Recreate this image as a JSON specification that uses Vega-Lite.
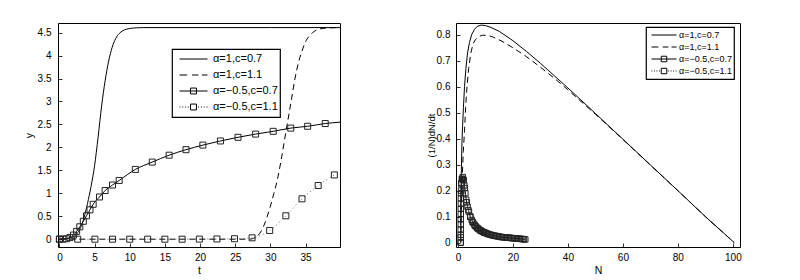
{
  "$schema": "https://vega.github.io/schema/vega-lite/v6.json",
  "background": "white",
  "padding": {"left": 23, "top": 22, "right": 5, "bottom": 5},
  "config": {
    "font": "Liberation Sans",
    "view": {"stroke": "black", "strokeWidth": 1},
    "axis": {"domain": false, "grid": false, "ticks": true, "tickSize": -4, "tickColor": "black", "tickWidth": 0.8,
      "labelFont": "Liberation Sans", "labelFontSize": 10, "labelColor": "black", "labelPadding": 11, "labelOverlap": false,
      "titleFont": "Liberation Sans", "titleFontSize": 10.5, "titleFontWeight": "normal", "titleColor": "black", "titlePadding": 3},
    "legend": {"strokeWidth": 1.2}
  },
  "datasets": {
    "left": [
      {"s": "α=1,c=0.7", "t": 0, "y": 0}, {"s": "α=1,c=0.7", "t": 1, "y": 0.01}, {"s": "α=1,c=0.7", "t": 1.5, "y": 0.03},
      {"s": "α=1,c=0.7", "t": 2, "y": 0.06}, {"s": "α=1,c=0.7", "t": 2.5, "y": 0.12}, {"s": "α=1,c=0.7", "t": 3, "y": 0.25},
      {"s": "α=1,c=0.7", "t": 3.5, "y": 0.47}, {"s": "α=1,c=0.7", "t": 4, "y": 0.78}, {"s": "α=1,c=0.7", "t": 4.5, "y": 1.15},
      {"s": "α=1,c=0.7", "t": 5, "y": 1.6}, {"s": "α=1,c=0.7", "t": 5.5, "y": 2.22}, {"s": "α=1,c=0.7", "t": 6, "y": 2.9},
      {"s": "α=1,c=0.7", "t": 6.5, "y": 3.45}, {"s": "α=1,c=0.7", "t": 7, "y": 3.88}, {"s": "α=1,c=0.7", "t": 7.5, "y": 4.18},
      {"s": "α=1,c=0.7", "t": 8, "y": 4.37}, {"s": "α=1,c=0.7", "t": 8.5, "y": 4.48}, {"s": "α=1,c=0.7", "t": 9, "y": 4.54},
      {"s": "α=1,c=0.7", "t": 10, "y": 4.59}, {"s": "α=1,c=0.7", "t": 11, "y": 4.605}, {"s": "α=1,c=0.7", "t": 12, "y": 4.61},
      {"s": "α=1,c=0.7", "t": 20, "y": 4.61}, {"s": "α=1,c=0.7", "t": 30, "y": 4.61}, {"s": "α=1,c=0.7", "t": 39.9, "y": 4.61},

      {"s": "α=1,c=1.1", "t": 0, "y": 0}, {"s": "α=1,c=1.1", "t": 27, "y": 0}, {"s": "α=1,c=1.1", "t": 28, "y": 0.05},
      {"s": "α=1,c=1.1", "t": 28.5, "y": 0.13}, {"s": "α=1,c=1.1", "t": 29, "y": 0.27}, {"s": "α=1,c=1.1", "t": 29.5, "y": 0.47},
      {"s": "α=1,c=1.1", "t": 30, "y": 0.72}, {"s": "α=1,c=1.1", "t": 30.5, "y": 1.0}, {"s": "α=1,c=1.1", "t": 31, "y": 1.3},
      {"s": "α=1,c=1.1", "t": 31.5, "y": 1.7}, {"s": "α=1,c=1.1", "t": 32, "y": 2.15}, {"s": "α=1,c=1.1", "t": 32.5, "y": 2.6},
      {"s": "α=1,c=1.1", "t": 33, "y": 3.05}, {"s": "α=1,c=1.1", "t": 33.5, "y": 3.5}, {"s": "α=1,c=1.1", "t": 34, "y": 3.85},
      {"s": "α=1,c=1.1", "t": 34.5, "y": 4.1}, {"s": "α=1,c=1.1", "t": 35, "y": 4.3}, {"s": "α=1,c=1.1", "t": 35.5, "y": 4.42},
      {"s": "α=1,c=1.1", "t": 36, "y": 4.5}, {"s": "α=1,c=1.1", "t": 36.5, "y": 4.55}, {"s": "α=1,c=1.1", "t": 37, "y": 4.58},
      {"s": "α=1,c=1.1", "t": 38, "y": 4.6}, {"s": "α=1,c=1.1", "t": 39.9, "y": 4.61},

      {"s": "α=−0.5,c=0.7", "t": 0, "y": 0}, {"s": "α=−0.5,c=0.7", "t": 0.5, "y": 0.002}, {"s": "α=−0.5,c=0.7", "t": 1.0, "y": 0.01},
      {"s": "α=−0.5,c=0.7", "t": 1.5, "y": 0.035}, {"s": "α=−0.5,c=0.7", "t": 2.0, "y": 0.09}, {"s": "α=−0.5,c=0.7", "t": 2.45, "y": 0.17},
      {"s": "α=−0.5,c=0.7", "t": 2.9, "y": 0.27}, {"s": "α=−0.5,c=0.7", "t": 3.4, "y": 0.39}, {"s": "α=−0.5,c=0.7", "t": 3.85, "y": 0.51},
      {"s": "α=−0.5,c=0.7", "t": 4.35, "y": 0.64}, {"s": "α=−0.5,c=0.7", "t": 4.8, "y": 0.76}, {"s": "α=−0.5,c=0.7", "t": 5.7, "y": 0.92},
      {"s": "α=−0.5,c=0.7", "t": 6.5, "y": 1.06}, {"s": "α=−0.5,c=0.7", "t": 7.55, "y": 1.18}, {"s": "α=−0.5,c=0.7", "t": 8.5, "y": 1.28},
      {"s": "α=−0.5,c=0.7", "t": 10.8, "y": 1.52}, {"s": "α=−0.5,c=0.7", "t": 13.2, "y": 1.68}, {"s": "α=−0.5,c=0.7", "t": 15.6, "y": 1.83},
      {"s": "α=−0.5,c=0.7", "t": 18.0, "y": 1.95}, {"s": "α=−0.5,c=0.7", "t": 20.4, "y": 2.05}, {"s": "α=−0.5,c=0.7", "t": 22.9, "y": 2.14},
      {"s": "α=−0.5,c=0.7", "t": 25.4, "y": 2.22}, {"s": "α=−0.5,c=0.7", "t": 27.9, "y": 2.29}, {"s": "α=−0.5,c=0.7", "t": 30.4, "y": 2.35},
      {"s": "α=−0.5,c=0.7", "t": 32.9, "y": 2.42}, {"s": "α=−0.5,c=0.7", "t": 35.3, "y": 2.46}, {"s": "α=−0.5,c=0.7", "t": 37.8, "y": 2.52},
      {"s": "α=−0.5,c=0.7", "t": 39.9, "y": 2.55},

      {"s": "α=−0.5,c=1.1", "t": 0, "y": 0}, {"s": "α=−0.5,c=1.1", "t": 2.6, "y": 0}, {"s": "α=−0.5,c=1.1", "t": 5.05, "y": 0},
      {"s": "α=−0.5,c=1.1", "t": 7.55, "y": 0}, {"s": "α=−0.5,c=1.1", "t": 10.0, "y": 0}, {"s": "α=−0.5,c=1.1", "t": 12.55, "y": 0},
      {"s": "α=−0.5,c=1.1", "t": 15.0, "y": 0}, {"s": "α=−0.5,c=1.1", "t": 17.45, "y": 0}, {"s": "α=−0.5,c=1.1", "t": 19.9, "y": 0.002},
      {"s": "α=−0.5,c=1.1", "t": 22.4, "y": 0.005}, {"s": "α=−0.5,c=1.1", "t": 24.9, "y": 0.01}, {"s": "α=−0.5,c=1.1", "t": 27.4, "y": 0.03},
      {"s": "α=−0.5,c=1.1", "t": 29.9, "y": 0.19}, {"s": "α=−0.5,c=1.1", "t": 32.2, "y": 0.51}, {"s": "α=−0.5,c=1.1", "t": 34.5, "y": 0.88},
      {"s": "α=−0.5,c=1.1", "t": 36.8, "y": 1.17}, {"s": "α=−0.5,c=1.1", "t": 39.1, "y": 1.4}
    ],
    "right": [
      {"s": "α=1,c=0.7", "N": 1.0, "r": 0}, {"s": "α=1,c=0.7", "N": 1.1, "r": 0.15}, {"s": "α=1,c=0.7", "N": 1.25, "r": 0.28},
      {"s": "α=1,c=0.7", "N": 1.45, "r": 0.38}, {"s": "α=1,c=0.7", "N": 1.7, "r": 0.45}, {"s": "α=1,c=0.7", "N": 2.0, "r": 0.52},
      {"s": "α=1,c=0.7", "N": 2.4, "r": 0.6}, {"s": "α=1,c=0.7", "N": 2.9, "r": 0.67}, {"s": "α=1,c=0.7", "N": 3.5, "r": 0.73},
      {"s": "α=1,c=0.7", "N": 4.2, "r": 0.77}, {"s": "α=1,c=0.7", "N": 5, "r": 0.8}, {"s": "α=1,c=0.7", "N": 6, "r": 0.82},
      {"s": "α=1,c=0.7", "N": 7, "r": 0.832}, {"s": "α=1,c=0.7", "N": 8.5, "r": 0.837}, {"s": "α=1,c=0.7", "N": 10, "r": 0.835},
      {"s": "α=1,c=0.7", "N": 12, "r": 0.828}, {"s": "α=1,c=0.7", "N": 15, "r": 0.813}, {"s": "α=1,c=0.7", "N": 20, "r": 0.777},
      {"s": "α=1,c=0.7", "N": 25, "r": 0.735}, {"s": "α=1,c=0.7", "N": 30, "r": 0.69}, {"s": "α=1,c=0.7", "N": 40, "r": 0.595},
      {"s": "α=1,c=0.7", "N": 50, "r": 0.497}, {"s": "α=1,c=0.7", "N": 60, "r": 0.398}, {"s": "α=1,c=0.7", "N": 70, "r": 0.299},
      {"s": "α=1,c=0.7", "N": 80, "r": 0.2}, {"s": "α=1,c=0.7", "N": 90, "r": 0.1}, {"s": "α=1,c=0.7", "N": 100.5, "r": 0},

      {"s": "α=1,c=1.1", "N": 1.0, "r": 0}, {"s": "α=1,c=1.1", "N": 1.1, "r": 0.05}, {"s": "α=1,c=1.1", "N": 1.3, "r": 0.15},
      {"s": "α=1,c=1.1", "N": 1.6, "r": 0.26}, {"s": "α=1,c=1.1", "N": 1.95, "r": 0.35}, {"s": "α=1,c=1.1", "N": 2.4, "r": 0.43},
      {"s": "α=1,c=1.1", "N": 2.8, "r": 0.52}, {"s": "α=1,c=1.1", "N": 3.3, "r": 0.6}, {"s": "α=1,c=1.1", "N": 3.9, "r": 0.67},
      {"s": "α=1,c=1.1", "N": 4.7, "r": 0.73}, {"s": "α=1,c=1.1", "N": 5.5, "r": 0.765}, {"s": "α=1,c=1.1", "N": 6.3, "r": 0.78},
      {"s": "α=1,c=1.1", "N": 7.5, "r": 0.793}, {"s": "α=1,c=1.1", "N": 9, "r": 0.798}, {"s": "α=1,c=1.1", "N": 11, "r": 0.797},
      {"s": "α=1,c=1.1", "N": 13, "r": 0.79}, {"s": "α=1,c=1.1", "N": 16, "r": 0.775}, {"s": "α=1,c=1.1", "N": 20, "r": 0.75},
      {"s": "α=1,c=1.1", "N": 25, "r": 0.715}, {"s": "α=1,c=1.1", "N": 30, "r": 0.675}, {"s": "α=1,c=1.1", "N": 35, "r": 0.633},
      {"s": "α=1,c=1.1", "N": 40, "r": 0.588}, {"s": "α=1,c=1.1", "N": 50, "r": 0.494}, {"s": "α=1,c=1.1", "N": 60, "r": 0.397},
      {"s": "α=1,c=1.1", "N": 70, "r": 0.298}, {"s": "α=1,c=1.1", "N": 80, "r": 0.2}, {"s": "α=1,c=1.1", "N": 90, "r": 0.1},
      {"s": "α=1,c=1.1", "N": 100.5, "r": 0},

      {"s": "α=−0.5,c=0.7", "N": 1.0, "r": 0.0}, {"s": "α=−0.5,c=0.7", "N": 1.01, "r": 0.03}, {"s": "α=−0.5,c=0.7", "N": 1.02, "r": 0.07},
      {"s": "α=−0.5,c=0.7", "N": 1.04, "r": 0.11}, {"s": "α=−0.5,c=0.7", "N": 1.07, "r": 0.15}, {"s": "α=−0.5,c=0.7", "N": 1.12, "r": 0.19},
      {"s": "α=−0.5,c=0.7", "N": 1.25, "r": 0.225}, {"s": "α=−0.5,c=0.7", "N": 1.45, "r": 0.245}, {"s": "α=−0.5,c=0.7", "N": 1.75, "r": 0.252},
      {"s": "α=−0.5,c=0.7", "N": 2.1, "r": 0.24}, {"s": "α=−0.5,c=0.7", "N": 2.5, "r": 0.21}, {"s": "α=−0.5,c=0.7", "N": 3.0, "r": 0.165},
      {"s": "α=−0.5,c=0.7", "N": 3.5, "r": 0.138}, {"s": "α=−0.5,c=0.7", "N": 4.0, "r": 0.118}, {"s": "α=−0.5,c=0.7", "N": 4.5, "r": 0.1},
      {"s": "α=−0.5,c=0.7", "N": 5.0, "r": 0.087}, {"s": "α=−0.5,c=0.7", "N": 5.5, "r": 0.077}, {"s": "α=−0.5,c=0.7", "N": 6.0, "r": 0.069},
      {"s": "α=−0.5,c=0.7", "N": 6.5, "r": 0.062}, {"s": "α=−0.5,c=0.7", "N": 7.0, "r": 0.057}, {"s": "α=−0.5,c=0.7", "N": 7.5, "r": 0.052},
      {"s": "α=−0.5,c=0.7", "N": 8.0, "r": 0.048}, {"s": "α=−0.5,c=0.7", "N": 8.5, "r": 0.045}, {"s": "α=−0.5,c=0.7", "N": 9.0, "r": 0.042},
      {"s": "α=−0.5,c=0.7", "N": 9.5, "r": 0.039}, {"s": "α=−0.5,c=0.7", "N": 10.0, "r": 0.037}, {"s": "α=−0.5,c=0.7", "N": 10.5, "r": 0.035},
      {"s": "α=−0.5,c=0.7", "N": 11.0, "r": 0.033}, {"s": "α=−0.5,c=0.7", "N": 11.5, "r": 0.031}, {"s": "α=−0.5,c=0.7", "N": 12.0, "r": 0.03},
      {"s": "α=−0.5,c=0.7", "N": 12.5, "r": 0.028}, {"s": "α=−0.5,c=0.7", "N": 13.0, "r": 0.027}, {"s": "α=−0.5,c=0.7", "N": 13.5, "r": 0.026},
      {"s": "α=−0.5,c=0.7", "N": 14.0, "r": 0.025}, {"s": "α=−0.5,c=0.7", "N": 14.5, "r": 0.024}, {"s": "α=−0.5,c=0.7", "N": 15.0, "r": 0.023},
      {"s": "α=−0.5,c=0.7", "N": 15.5, "r": 0.022}, {"s": "α=−0.5,c=0.7", "N": 16.0, "r": 0.021}, {"s": "α=−0.5,c=0.7", "N": 16.5, "r": 0.0205},
      {"s": "α=−0.5,c=0.7", "N": 17.0, "r": 0.02}, {"s": "α=−0.5,c=0.7", "N": 17.5, "r": 0.0195}, {"s": "α=−0.5,c=0.7", "N": 18.0, "r": 0.019},
      {"s": "α=−0.5,c=0.7", "N": 18.5, "r": 0.0185}, {"s": "α=−0.5,c=0.7", "N": 19.0, "r": 0.018}, {"s": "α=−0.5,c=0.7", "N": 19.5, "r": 0.0175},
      {"s": "α=−0.5,c=0.7", "N": 20.0, "r": 0.017}, {"s": "α=−0.5,c=0.7", "N": 20.5, "r": 0.0165}, {"s": "α=−0.5,c=0.7", "N": 21.0, "r": 0.016},
      {"s": "α=−0.5,c=0.7", "N": 21.5, "r": 0.0155}, {"s": "α=−0.5,c=0.7", "N": 22.0, "r": 0.015}, {"s": "α=−0.5,c=0.7", "N": 22.5, "r": 0.0145},
      {"s": "α=−0.5,c=0.7", "N": 23.0, "r": 0.014}, {"s": "α=−0.5,c=0.7", "N": 23.5, "r": 0.0135}, {"s": "α=−0.5,c=0.7", "N": 24.0, "r": 0.013},
      {"s": "α=−0.5,c=0.7", "N": 24.5, "r": 0.012},

      {"s": "α=−0.5,c=1.1", "N": 1.0, "r": 0.0}, {"s": "α=−0.5,c=1.1", "N": 1.005, "r": 0.02}, {"s": "α=−0.5,c=1.1", "N": 1.01, "r": 0.05},
      {"s": "α=−0.5,c=1.1", "N": 1.02, "r": 0.09}, {"s": "α=−0.5,c=1.1", "N": 1.04, "r": 0.13}, {"s": "α=−0.5,c=1.1", "N": 1.08, "r": 0.17},
      {"s": "α=−0.5,c=1.1", "N": 1.15, "r": 0.2}, {"s": "α=−0.5,c=1.1", "N": 1.3, "r": 0.23}, {"s": "α=−0.5,c=1.1", "N": 1.55, "r": 0.245},
      {"s": "α=−0.5,c=1.1", "N": 1.9, "r": 0.243}, {"s": "α=−0.5,c=1.1", "N": 2.3, "r": 0.22}, {"s": "α=−0.5,c=1.1", "N": 2.7, "r": 0.19},
      {"s": "α=−0.5,c=1.1", "N": 3.2, "r": 0.155}, {"s": "α=−0.5,c=1.1", "N": 3.8, "r": 0.125}, {"s": "α=−0.5,c=1.1", "N": 4.5, "r": 0.1},
      {"s": "α=−0.5,c=1.1", "N": 5.3, "r": 0.08}, {"s": "α=−0.5,c=1.1", "N": 6.2, "r": 0.065}, {"s": "α=−0.5,c=1.1", "N": 7.2, "r": 0.054},
      {"s": "α=−0.5,c=1.1", "N": 8.3, "r": 0.045}, {"s": "α=−0.5,c=1.1", "N": 9.5, "r": 0.039}
    ]
  },
  "hconcat": [
    {
      "width": 282, "height": 224,
      "data": {"name": "left"},
      "encoding": {
        "x": {"field": "t", "type": "quantitative", "scale": {"domain": [-0.2, 39.9], "nice": false, "zero": false},
              "axis": {"title": "t", "values": [0, 5, 10, 15, 20, 25, 30, 35], "labelPadding": 9, "labelOverlap": false}},
        "y": {"field": "y", "type": "quantitative", "scale": {"domain": [-0.17, 4.71], "nice": false, "zero": false},
              "axis": {"title": "y", "format": ".1~f", "values": [0, 0.5, 1, 1.5, 2, 2.5, 3, 3.5, 4, 4.5], "labelOverlap": false}}
      },
      "layer": [
        {
          "transform": [{"filter": {"field": "s", "oneOf": ["α=1,c=0.7", "α=−0.5,c=0.7"]}}],
          "mark": {"type": "line", "interpolate": "monotone", "strokeWidth": 1, "color": "black", "clip": true},
          "encoding": {"detail": {"field": "s", "type": "nominal"}}
        },
        {
          "transform": [{"filter": {"field": "s", "equal": "α=1,c=1.1"}}],
          "mark": {"type": "line", "interpolate": "monotone", "strokeWidth": 1, "color": "black", "strokeDash": [6, 4], "clip": true},
          "encoding": {}
        },
        {
          "transform": [{"filter": {"field": "s", "equal": "α=−0.5,c=1.1"}}],
          "mark": {"type": "line", "interpolate": "monotone", "strokeWidth": 1, "color": "#666666", "strokeDash": [1, 3], "clip": true},
          "encoding": {}
        },
        {
          "transform": [{"filter": {"field": "s", "oneOf": ["α=−0.5,c=0.7", "α=−0.5,c=1.1"]}}, {"filter": "datum.t < 39.5"}],
          "mark": {"type": "point", "shape": "square", "filled": false, "size": 36, "strokeWidth": 1, "color": "#222222", "opacity": 1},
          "encoding": {}
        },
        {
          "transform": [{"filter": "datum.t == 0"}],
          "mark": {"type": "point", "filled": false, "color": "black", "strokeWidth": 1, "opacity": 0},
          "encoding": {
            "shape": {"field": "s", "type": "nominal",
              "scale": {"domain": ["α=1,c=0.7", "α=1,c=1.1", "α=−0.5,c=0.7", "α=−0.5,c=1.1"],
                        "range": ["M-1,0H1", "M-1,0H-0.45M-0.1,0H0.35M0.6,0H1", "M-1,0H1M-0.21,-0.21H0.21V0.21H-0.21Z",
                                  "M-1,0H-0.93M-0.8,0H-0.73M-0.6,0H-0.53M-0.4,0H-0.33M0.33,0H0.4M0.53,0H0.6M0.73,0H0.8M0.93,0H1M-0.21,-0.21H0.21V0.21H-0.21Z"]},
              "legend": {"title": null, "orient": "none", "legendX": 114, "legendY": 26, "strokeColor": "black", "fillColor": "white",
                         "padding": 2, "rowPadding": 0, "symbolSize": 784, "clipHeight": 16, "symbolOffset": 5, "labelOffset": 5,
                         "symbolStrokeWidth": 1, "symbolStrokeColor": "black", "symbolFillColor": "transparent", "symbolOpacity": 1,
                         "labelFont": "Liberation Sans", "labelFontSize": 11, "labelColor": "black"}}
          }
        }
      ]
    },
    {
      "width": 284, "height": 224,
      "data": {"name": "right"},
      "encoding": {
        "x": {"field": "N", "type": "quantitative", "scale": {"domain": [-0.7, 102.6], "nice": false, "zero": false},
              "axis": {"title": "N", "values": [0, 20, 40, 60, 80, 100], "labelPadding": 9, "labelOverlap": false}},
        "y": {"field": "r", "type": "quantitative", "scale": {"domain": [-0.017, 0.845], "nice": false, "zero": false},
              "axis": {"title": "(1/N)dN/dt", "format": ".1~f", "values": [0, 0.1, 0.2, 0.3, 0.4, 0.5, 0.6, 0.7, 0.8], "labelOverlap": false,
                       "titleFontSize": 9.5, "titlePadding": 0, "labelPadding": 10}}
      },
      "layer": [
        {
          "transform": [{"filter": {"field": "s", "oneOf": ["α=1,c=0.7", "α=−0.5,c=0.7"]}}],
          "mark": {"type": "line", "strokeWidth": 1, "color": "black", "clip": true},
          "encoding": {"detail": {"field": "s", "type": "nominal"}}
        },
        {
          "transform": [{"filter": {"field": "s", "equal": "α=1,c=1.1"}}],
          "mark": {"type": "line", "strokeWidth": 1, "color": "black", "strokeDash": [6, 4], "clip": true},
          "encoding": {}
        },
        {
          "transform": [{"filter": {"field": "s", "equal": "α=−0.5,c=1.1"}}],
          "mark": {"type": "line", "strokeWidth": 1, "color": "#666666", "strokeDash": [1, 3], "clip": true},
          "encoding": {}
        },
        {
          "transform": [{"filter": {"field": "s", "oneOf": ["α=−0.5,c=0.7", "α=−0.5,c=1.1"]}}],
          "mark": {"type": "point", "shape": "square", "filled": false, "size": 30, "strokeWidth": 1, "color": "#222222", "opacity": 1},
          "encoding": {}
        },
        {
          "transform": [{"filter": "datum.N == 1"}],
          "mark": {"type": "point", "filled": false, "color": "black", "strokeWidth": 1, "opacity": 0},
          "encoding": {
            "shape": {"field": "s", "type": "nominal",
              "scale": {"domain": ["α=1,c=0.7", "α=1,c=1.1", "α=−0.5,c=0.7", "α=−0.5,c=1.1"],
                        "range": ["M-1,0H1", "M-1,0H-0.45M-0.1,0H0.35M0.6,0H1", "M-1,0H1M-0.22,-0.22H0.22V0.22H-0.22Z",
                                  "M-1,0H-0.93M-0.8,0H-0.73M-0.6,0H-0.53M-0.4,0H-0.33M0.33,0H0.4M0.53,0H0.6M0.73,0H0.8M0.93,0H1M-0.22,-0.22H0.22V0.22H-0.22Z"]},
              "legend": {"title": null, "orient": "none", "legendX": 190, "legendY": 4, "strokeColor": "black", "fillColor": "white",
                         "padding": 2, "rowPadding": 0, "symbolSize": 625, "clipHeight": 12, "symbolOffset": 3, "labelOffset": 2,
                         "symbolStrokeWidth": 1, "symbolStrokeColor": "black", "symbolFillColor": "transparent", "symbolOpacity": 1,
                         "labelFont": "Liberation Sans", "labelFontSize": 9, "labelColor": "black"}}
          }
        }
      ]
    }
  ],
  "spacing": 116,
  "bounds": "flush",
  "resolve": {
    "scale": {"x": "independent", "y": "independent", "shape": "independent"},
    "legend": {"shape": "independent"}
  }
}
